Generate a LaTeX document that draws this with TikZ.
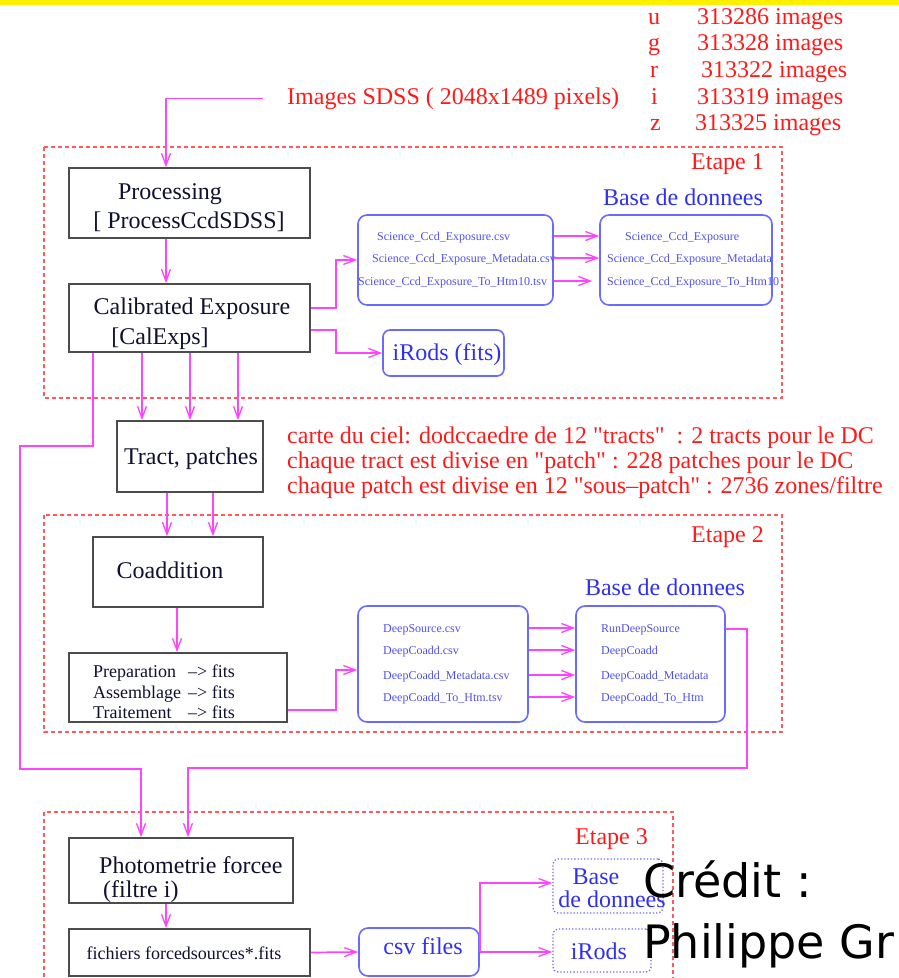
\documentclass[tikz,border=0pt]{standalone}
\usepackage{fontspec}
\setmainfont{Liberation Serif}
\newfontfamily\creditfont{DejaVu Sans}
\newfontfamily\qtfont{Liberation Serif}[Ligatures=TeXOff]
\usetikzlibrary{arrows.meta}
\newcommand{\dq}{{\qtfont"}}
\definecolor{mag}{HTML}{FF44FF}
\definecolor{stepred}{HTML}{FF5A5A}
\definecolor{txtred}{HTML}{FF1A1A}
\definecolor{bblue}{HTML}{6A6AFF}
\definecolor{tblue}{HTML}{3030F0}
\definecolor{sblue}{HTML}{5050E8}
\definecolor{navy}{HTML}{101030}
\definecolor{topyellow}{HTML}{FFF000}
\begin{document}
\begin{tikzpicture}[x=1pt,y=-1pt,
  flow/.style={draw=mag, line width=1.7pt, -{Straight Barb[length=12pt,width=9pt,line width=1.3pt]}},
  stagebox/.style={draw=stepred, line width=1.6pt, dash pattern=on 4pt off 3pt},
  procbox/.style={draw=black!70, line width=1.8pt, inner sep=0pt, rectangle},
  filebox/.style={draw=bblue, line width=1.6pt, rounded corners=9pt, inner sep=0pt, rectangle},
  dotbox/.style={draw=bblue, line width=1.3pt, dotted, rounded corners=5pt, inner sep=0pt, rectangle},
  boxtxt/.style={text=navy, font=\fontsize{24}{29}\selectfont, inner sep=0pt, yshift=-5pt},
  midtxt/.style={text=navy, font=\fontsize{18}{21}\selectfont, inner sep=0pt, anchor=mid west, yshift=-4pt},
  redtxt/.style={text=txtred, font=\fontsize{24}{25}\selectfont, inner sep=0pt, yshift=-5pt},
  bluetxt/.style={text=tblue, font=\fontsize{24}{24}\selectfont, inner sep=0pt, yshift=-5pt},
  smalltxt/.style={text=sblue, font=\fontsize{12}{12}\selectfont, inner sep=0pt, anchor=mid west, yshift=-2.5pt},
  credit/.style={text=black, font=\creditfont\fontsize{46}{50}\selectfont, inner sep=0pt, anchor=base west},
]
\useasboundingbox (0,0) rectangle (899,978);
\clip (0,0) rectangle (899,978);

% top yellow band
\fill[topyellow] (0,0) rectangle (899,5);

% stage frames
\draw[stagebox] (44,147) rectangle (782,398);
\draw[stagebox] (44,515) rectangle (782,732);
\draw[stagebox] (44,812) rectangle (673,995);
\node[redtxt, anchor=mid east] (etape1) at (764,162) {Etape 1};
\node[redtxt, anchor=mid east] (etape2) at (764,535) {Etape 2};
\node[redtxt, anchor=mid east] (etape3) at (648,837) {Etape 3};

% top texts
\node[redtxt, anchor=mid west] (sdss) at (287,97) {Images SDSS ( 2048x1489 pixels)};
\node[redtxt, anchor=mid west] (fu) at (648,17) {u};
\node[redtxt, anchor=mid west] (fg) at (648,43) {g};
\node[redtxt, anchor=mid west] (fr) at (650,70) {r};
\node[redtxt, anchor=mid west] (fi) at (651,97) {i};
\node[redtxt, anchor=mid west] (fz) at (650,123) {z};
\node[redtxt, anchor=mid west] (nu) at (697,17) {313286 images};
\node[redtxt, anchor=mid west] (ng) at (697,43) {313328 images};
\node[redtxt, anchor=mid west] (nr) at (701,70) {313322 images};
\node[redtxt, anchor=mid west] (ni) at (697,97) {313319 images};
\node[redtxt, anchor=mid west] (nz) at (695,123) {313325 images};

% sky map text
\node[redtxt, anchor=mid west] (sky1) at (287,436) {carte du ciel: dodccaedre de 12 \dq tracts\dq\ \ : 2 tracts pour le DC};
\node[redtxt, anchor=mid west] (sky2) at (287,461) {chaque tract est divise en \dq patch\dq\ : 228 patches pour le DC};
\node[redtxt, anchor=mid west] (sky3) at (287,486) {chaque patch est divise en 12 \dq sous–patch\dq\ : 2736 zones/filtre};

% ---- Etape 1
\node[procbox, minimum width=241pt, minimum height=70pt] (proc) at (189.5,203) {};
\node[boxtxt, anchor=mid] (proct1) at (170,192) {Processing};
\node[boxtxt, anchor=mid] (proct2) at (189,221) {{[} ProcessCcdSDSS]};

\node[procbox, minimum width=241pt, minimum height=68pt] (cal) at (189.5,318) {};
\node[boxtxt, anchor=mid] (calt1) at (192,307) {Calibrated Exposure};
\node[boxtxt, anchor=mid] (calt2) at (160,337) {{[}CalExps]};

\node[filebox, minimum width=195pt, minimum height=90pt] (csv1) at (455.5,260) {};
\node[smalltxt] (c1a) at (377,236) {Science\_Ccd\_Exposure.csv};
\node[smalltxt] (c1b) at (372,258) {Science\_Ccd\_Exposure\_Metadata.csv};
\node[smalltxt] (c1c) at (358,281) {Science\_Ccd\_Exposure\_To\_Htm10.tsv};

\node[filebox, minimum width=172pt, minimum height=90pt] (db1) at (686,260) {};
\node[bluetxt, anchor=mid] (db1t) at (683,198) {Base de donnees};
\node[smalltxt] (d1a) at (625,236) {Science\_Ccd\_Exposure};
\node[smalltxt] (d1b) at (607,258) {Science\_Ccd\_Exposure\_Metadata};
\node[smalltxt] (d1c) at (607,281) {Science\_Ccd\_Exposure\_To\_Htm10};

\node[filebox, rounded corners=7pt, minimum width=121pt, minimum height=46pt] (irods1) at (443.5,353) {};
\node[bluetxt, anchor=mid] (irods1t) at (447,353) {iRods (fits)};

% ---- tract
\node[procbox, minimum width=146pt, minimum height=71pt] (tract) at (190,456.5) {};
\node[boxtxt, anchor=mid] (tractt) at (191,457) {Tract, patches};

% ---- Etape 2
\node[procbox, minimum width=170pt, minimum height=70pt] (coadd) at (178,572) {};
\node[boxtxt, anchor=mid] (coaddt) at (170,571) {Coaddition};

\node[procbox, minimum width=218pt, minimum height=69pt] (prep) at (178,687.5) {};
\node[midtxt] (pa) at (93,671) {Preparation};
\node[midtxt] (pb) at (93,692) {Assemblage};
\node[midtxt] (pc) at (93,712) {Traitement};
\node[midtxt] (pa2) at (188,671) {–> fits};
\node[midtxt] (pb2) at (188,692) {–> fits};
\node[midtxt] (pc2) at (188,712) {–> fits};

\node[filebox, minimum width=170pt, minimum height=116pt] (csv2) at (443,664) {};
\node[smalltxt] (c2a) at (383,628) {DeepSource.csv};
\node[smalltxt] (c2b) at (383,650) {DeepCoadd.csv};
\node[smalltxt] (c2c) at (383,675) {DeepCoadd\_Metadata.csv};
\node[smalltxt] (c2d) at (383,697) {DeepCoadd\_To\_Htm.tsv};

\node[filebox, minimum width=149pt, minimum height=116pt] (db2) at (650.5,664) {};
\node[bluetxt, anchor=mid] (db2t) at (665,588) {Base de donnees};
\node[smalltxt] (d2a) at (601,628) {RunDeepSource};
\node[smalltxt] (d2b) at (601,650) {DeepCoadd};
\node[smalltxt] (d2c) at (601,675) {DeepCoadd\_Metadata};
\node[smalltxt] (d2d) at (601,697) {DeepCoadd\_To\_Htm};

% ---- Etape 3
\node[procbox, minimum width=224pt, minimum height=65pt] (phot) at (181,870.5) {};
\node[boxtxt, anchor=mid west] (phott1) at (99,866) {Photometrie forcee};
\node[boxtxt, anchor=mid west] (phott2) at (103,890) {(filtre i)};

\node[procbox, minimum width=241pt, minimum height=47pt] (fich) at (189.5,952.5) {};
\node[text=navy, font=\fontsize{18}{18}\selectfont, inner sep=0pt, anchor=mid, yshift=-4pt] (ficht) at (184,953) {fichiers forcedsources*.fits};

\node[filebox, minimum width=120pt, minimum height=48pt] (csvf) at (419,952) {};
\node[bluetxt, anchor=mid] (csvft) at (423,947) {csv files};

\node[dotbox, minimum width=110pt, minimum height=54pt] (base3) at (608,886) {};
\node[bluetxt, anchor=mid] (base3a) at (596,877) {Base};
\node[bluetxt, anchor=mid] (base3b) at (612,900) {de donnees};

\node[dotbox, minimum width=98pt, minimum height=43pt] (irods3) at (602,950.5) {};
\node[bluetxt, anchor=mid] (irods3t) at (599,952) {iRods};

% ---- connectors
\draw[flow] ([xshift=-24pt]sdss.west) -| ([xshift=-23.5pt]proc.north);
\draw[flow] ([xshift=-23.5pt]proc.south) -- ([xshift=-23.5pt]cal.north);
\draw[flow] ([yshift=10pt]cal.east) -- ++(25,0) |- (csv1.west);
\draw[flow] ([yshift=-12pt]cal.east) -- ++(25,0) |- (irods1.west);
\draw[flow] ([yshift=24pt]csv1.east) -- ([yshift=24pt]db1.west);
\draw[flow] ([yshift=2pt]csv1.east) -- ([yshift=2pt]db1.west);
\draw[flow] ([yshift=-21pt]csv1.east) -- ([yshift=-21pt,xshift=-7pt]db1.west);

\draw[flow] ([xshift=-47.5pt]cal.south) -- ([xshift=-48pt]tract.north);
\draw[flow] ([xshift=0.5pt]cal.south) -- (tract.north);
\draw[flow] ([xshift=48.5pt]cal.south) -- ([xshift=48pt]tract.north);

\draw[flow] ([xshift=-23pt]tract.south) -- ([xshift=-11pt]coadd.north);
\draw[flow] ([xshift=23pt]tract.south) -- ([xshift=35pt]coadd.north);
\draw[flow] ([xshift=-1pt]coadd.south) -- ([xshift=-1pt]prep.north);

\draw[flow] ([yshift=-22.5pt]prep.east) -- ++(48,0) |- ([yshift=-6pt]csv2.west);
\draw[flow] ([yshift=36pt]csv2.east) -- ([yshift=36pt]db2.west);
\draw[flow] ([yshift=14pt]csv2.east) -- ([yshift=14pt]db2.west);
\draw[flow] ([yshift=-11pt]csv2.east) -- ([yshift=-11pt]db2.west);
\draw[flow] ([yshift=-33pt]csv2.east) -- ([yshift=-33pt]db2.west);

\draw[flow] ([yshift=35pt]db2.east) -- ++(21,0) -- ++(0,139) -| ([xshift=7pt]phot.north);
\draw[flow] ([xshift=-96.5pt]cal.south) -- ++(0,93) -- ++(-73,0) -- ++(0,323) -| ([xshift=-40pt]phot.north);

\draw[flow] ([xshift=-15pt]phot.south) -- ([xshift=-23.5pt]fich.north);
\draw[flow] (fich.east) -- (csvf.west);
\draw[flow] (csvf.east) -- (csvf.east -| irods3.west);
\draw[flow] (csvf.east) |- ([yshift=3pt]base3.west);

% credit
\node[credit] (cred1) at (643,897) {Crédit :};
\node[credit] (cred2) at (643,958) {Philippe Gr};
\end{tikzpicture}
\end{document}
